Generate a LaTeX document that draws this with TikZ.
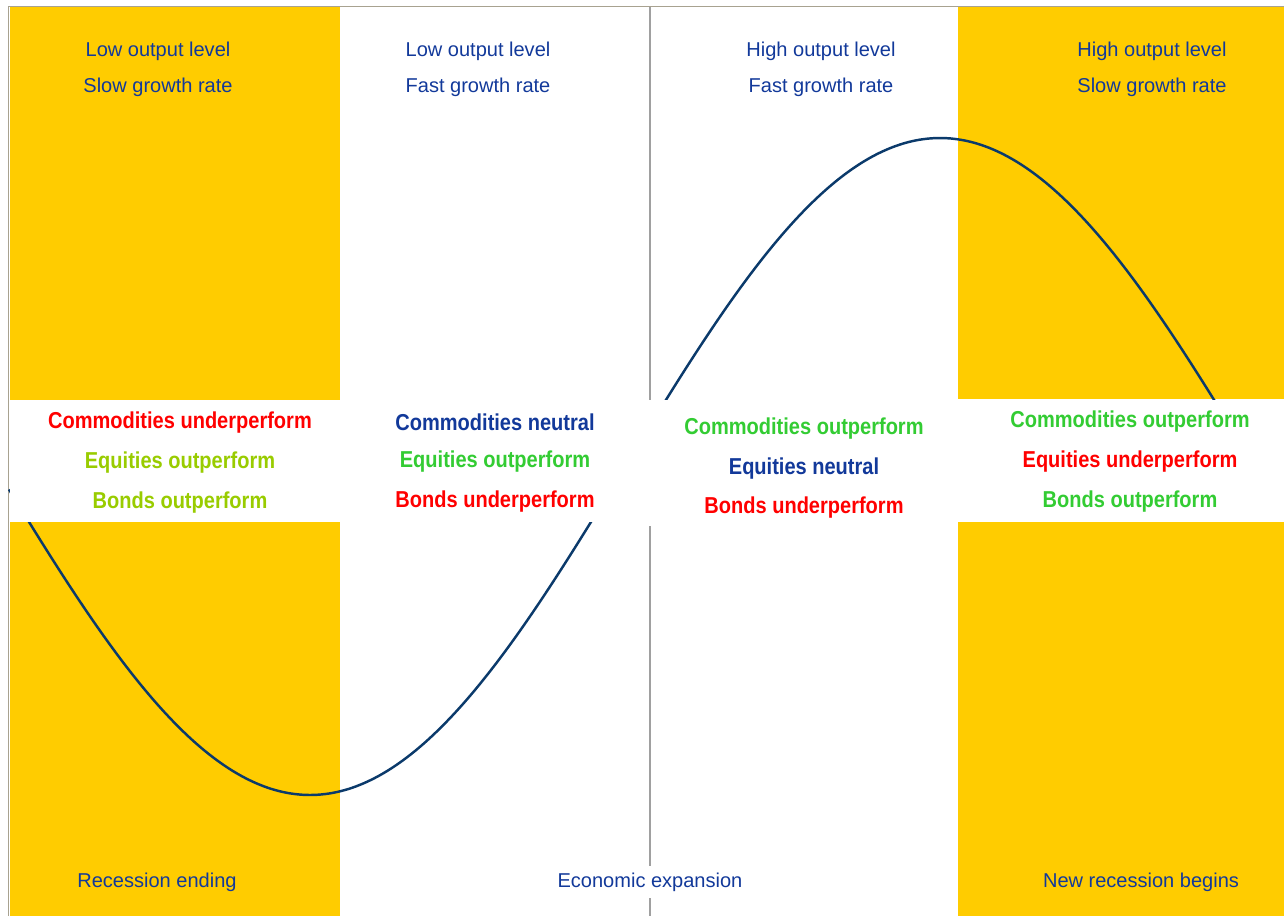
\documentclass[tikz,border=0pt]{standalone}
\usepackage{fontspec}
\setmainfont{Liberation Sans}
\newfontfamily\assetfont[FakeStretch=0.87]{Liberation Sans Bold}
\usepackage{xcolor}
\usetikzlibrary{positioning}

\definecolor{phaseyellow}{HTML}{FFCC00}
\definecolor{labelblue}{HTML}{12399A}
\definecolor{curveblue}{HTML}{0B3A6B}
\definecolor{framegray}{HTML}{A8A290}
\definecolor{axisgray}{HTML}{A0A0A0}
\definecolor{limegreen}{HTML}{99CC00}
\definecolor{brightgreen}{HTML}{33CC33}
\definecolor{brightred}{HTML}{FF0000}

\begin{document}
\begin{tikzpicture}[
    x=0.02cm,
    y=-0.02cm,
    on grid,
    node distance=0.72cm,
    phase/.style={
        text=labelblue,
        font=\fontsize{11.4}{13.7}\selectfont,
        inner sep=1pt
    },
    asset/.style={
        font=\assetfont\fontsize{13.1}{15.7}\selectfont,
        inner sep=1pt
    },
    cycle/.style={
        curveblue,
        line width=1.4pt,
        line join=round
    }
]
\useasboundingbox (0,0) rectangle (1284,916);

% Recession phases
\fill[phaseyellow] (10,7) rectangle (340,400);
\fill[phaseyellow] (10,522) rectangle (340,916);
\fill[phaseyellow] (958,7) rectangle (1284,399);
\fill[phaseyellow] (958,521) rectangle (1284,916);

% Frame and middle divider
\draw[framegray, line width=0.6pt] (8.5,916) -- (8.5,6.5) -- (1284,6.5);
\draw[axisgray, line width=0.6pt] (650,7) -- (650,400);
\draw[axisgray, line width=0.6pt] (650,526) -- (650,916);

% Output gap over the cycle
\draw[cycle] plot[domain=9:1236, samples=160, smooth]
    (\x, {466.5 - 328.5*sin((\x-625)*2/7)});

% Band for asset performance
\fill[white] (9.5,400) rectangle (1284,522);
\fill[white] (600,522) rectangle (700,526);

% Output level and growth rate
\node[phase] (lowlvl1) at (158,51) {Low output level};
\node[phase, below=of lowlvl1] (slow1) {Slow growth rate};
\node[phase] (lowlvl2) at (478,51) {Low output level};
\node[phase, below=of lowlvl2] (fast2) {Fast growth rate};
\node[phase] (highlvl3) at (821,51) {High output level};
\node[phase, below=of highlvl3] (fast3) {Fast growth rate};
\node[phase] (highlvl4) at (1152,51) {High output level};
\node[phase, below=of highlvl4] (slow4) {Slow growth rate};

% Asset classes
\begin{scope}[node distance=0.8cm]
\node[asset, text=brightred] (comm1) at (180,423) {Commodities underperform};
\node[asset, text=limegreen, below=of comm1] (eq1) {Equities outperform};
\node[asset, text=limegreen, below=of eq1] (bond1) {Bonds outperform};

\node[asset, text=labelblue] (comm2) at (495,422) {Commodities neutral};
\node[asset, text=brightgreen, below=of comm2] (eq2) {Equities outperform};
\node[asset, text=brightred, below=of eq2] (bond2) {Bonds underperform};

\node[asset, text=brightgreen] (comm3) at (804,429) {Commodities outperform};
\node[asset, text=labelblue, below=0.79cm of comm3] (eq3) {Equities neutral};
\node[asset, text=brightred, below=0.79cm of eq3] (bond3) {Bonds underperform};

\node[asset, text=brightgreen] (comm4) at (1130,422) {Commodities outperform};
\node[asset, text=brightred, below=of comm4] (eq4) {Equities underperform};
\node[asset, text=brightgreen, below=of eq4] (bond4) {Bonds outperform};
\end{scope}

% Stages of the cycle
\node[phase] (recend) at (157,882) {Recession ending};
\node[phase, fill=white, inner sep=4pt] (expansion) at (650,882) {Economic expansion};
\node[phase] (recnew) at (1141,882) {New recession begins};

\end{tikzpicture}
\end{document}
